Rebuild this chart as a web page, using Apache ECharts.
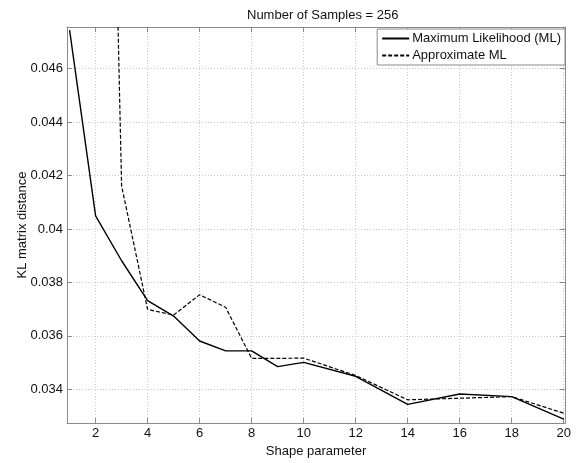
<!DOCTYPE html>
<html>
<head>
<meta charset="utf-8">
<script src="https://cdn.jsdelivr.net/npm/echarts@6/dist/echarts.min.js"></script>
<style>
  html, body { margin: 0; padding: 0; background: #fff; }
  #main { width: 579px; height: 463px; }
</style>
</head>
<body>
<div id="main"></div>
<script>
// shape parameter values
var shapeParam = [1, 2, 3, 4, 5, 6, 7, 8, 9, 10, 12, 14, 16, 18, 20];
// KL matrix distance, Maximum Likelihood
var mlValues = [0.04743, 0.04049, 0.03881, 0.03732, 0.03674, 0.03581, 0.03544, 0.03544, 0.03485, 0.03501, 0.03449, 0.03344, 0.03383, 0.03373, 0.03289];
// KL matrix distance, Approximate ML (first two go off the top)
var approxValues = [0.12, 0.085, 0.04161, 0.03699, 0.03678, 0.03754, 0.03707, 0.03516, 0.03516, 0.03517, 0.03452, 0.03361, 0.03367, 0.03373, 0.03311];
var xTicks = [2, 4, 6, 8, 10, 12, 14, 16, 18, 20];
var yTicks = [0.034, 0.036, 0.038, 0.04, 0.042, 0.044, 0.046];

var xMin = 0.9, xMax = 20.05;
var yMin = 0.03274, yMax = 0.04755;

function pairs(xs, ys) {
  return xs.map(function (x, i) { return [x, ys[i]]; });
}

var font = 'Liberation Sans, Arial, Helvetica, sans-serif';
var axisGray = '#8a8a8a';
var fs = 13;

var chart = echarts.init(document.getElementById('main'));
chart.setOption({
  animation: false,
  textStyle: { fontFamily: font },
  title: {
    text: 'Number of Samples = 256',
    left: 242,
    top: 4,
    textStyle: { fontSize: fs, fontWeight: 'normal', color: '#111', fontFamily: font }
  },
  legend: {
    orient: 'vertical',
    right: 14,
    top: 29,
    backgroundColor: '#fff',
    borderColor: axisGray,
    borderWidth: 1,
    borderRadius: 0,
    padding: [3, 4, 3, 4],
    itemGap: 4,
    itemWidth: 27,
    itemHeight: 13,
    itemStyle: { opacity: 0 },
    textStyle: { fontSize: fs, color: '#111', fontFamily: font, padding: [0, 0, 0, -2] },
    data: ['Maximum Likelihood (ML)', 'Approximate ML']
  },
  grid: { left: 67, right: 14, top: 27, bottom: 36 },
  xAxis: [{
    type: 'value',
    min: xMin,
    max: xMax,
    name: 'Shape parameter',
    nameLocation: 'middle',
    nameGap: 20,
    nameTextStyle: { fontSize: fs, color: '#111', fontFamily: font },
    axisLine: { lineStyle: { color: axisGray, width: 1 } },
    axisTick: { inside: true, length: 5, lineStyle: { color: axisGray }, customValues: xTicks },
    axisLabel: { color: '#111', fontSize: fs, margin: 4, customValues: xTicks, fontFamily: font },
    splitLine: { show: true, lineStyle: { color: '#c8c8c8', type: [1, 2], width: 1 } }
  }, {
    type: 'value',
    position: 'top',
    min: xMin,
    max: xMax,
    axisLine: { lineStyle: { color: axisGray, width: 1 } },
    axisTick: { inside: true, length: 5, lineStyle: { color: axisGray }, customValues: xTicks },
    axisLabel: { show: false },
    splitLine: { show: false }
  }],
  yAxis: [{
    type: 'value',
    min: yMin,
    max: yMax,
    name: 'KL matrix distance',
    nameLocation: 'middle',
    nameGap: 38,
    nameMoveOverlap: false,
    nameTextStyle: { fontSize: fs, color: '#111', fontFamily: font },
    axisLine: { show: true, lineStyle: { color: axisGray, width: 1 } },
    axisTick: { show: true, inside: true, length: 5, lineStyle: { color: axisGray }, customValues: yTicks },
    axisLabel: { color: '#111', fontSize: fs, margin: 4, customValues: yTicks, fontFamily: font },
    splitLine: { show: true, lineStyle: { color: '#c8c8c8', type: [1, 2], width: 1 } }
  }, {
    type: 'value',
    position: 'right',
    min: yMin,
    max: yMax,
    axisLine: { show: true, lineStyle: { color: axisGray, width: 1 } },
    axisTick: { show: true, inside: true, length: 5, lineStyle: { color: axisGray }, customValues: yTicks },
    axisLabel: { show: false },
    splitLine: { show: false }
  }],
  series: [{
    name: 'Maximum Likelihood (ML)',
    type: 'line',
    data: pairs(shapeParam, mlValues),
    symbol: 'none',
    clip: true,
    lineStyle: { color: '#000', width: 1.4, type: 'solid' },
    itemStyle: { color: '#000' }
  }, {
    name: 'Approximate ML',
    type: 'line',
    data: pairs(shapeParam, approxValues),
    symbol: 'none',
    clip: true,
    lineStyle: { color: '#000', width: 1.2, type: [4, 2] },
    itemStyle: { color: '#000' }
  }]
});
</script>
</body>
</html>
